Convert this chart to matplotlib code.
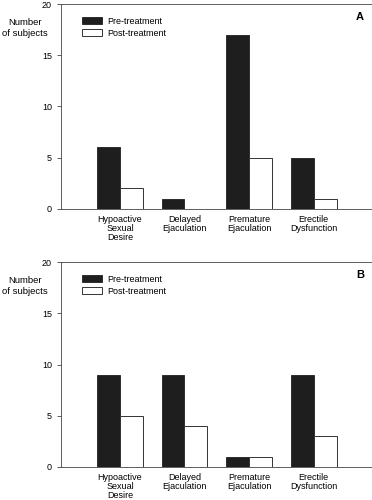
import matplotlib
matplotlib.use("Agg")
import matplotlib.pyplot as plt
import numpy as np

plt.rcParams['font.family'] = ['Liberation Sans', 'DejaVu Sans']

categories = ["Hypoactive\nSexual\nDesire", "Delayed\nEjaculation", "Premature\nEjaculation", "Erectile\nDysfunction"]
pre_A = [6, 1, 17, 5]
post_A = [2, 0, 5, 1]
pre_B = [9, 9, 1, 9]
post_B = [5, 4, 1, 3]
yticks = [0, 5, 10, 15, 20]

W, H = 372, 500
fig = plt.figure(figsize=(W/100, H/100), dpi=100)

def panel(top, bottom, pre, post, label):
    left = 61
    right = 386
    ax = fig.add_axes([left/W, 1 - bottom/H, (right-left)/W, (bottom-top)/H])
    x = np.arange(len(categories))
    w = 0.355
    ax.bar(x - w/2, pre, w, color='#1e1e1e', edgecolor='#1e1e1e', linewidth=0.6, label='Pre-treatment')
    ax.bar(x + w/2, post, w, color='white', edgecolor='#333333', linewidth=0.7, label='Post-treatment')
    ax.set_xlim(-0.912, 4.12)
    ax.set_ylim(0, 20)
    ax.set_yticks(yticks)
    ax.set_xticks(x)
    ax.set_xticklabels(categories, fontsize=6.5, linespacing=1.0)
    ax.tick_params(axis='x', length=0, pad=4.5)
    ax.tick_params(axis='y', length=3, width=0.6, labelsize=6.5, pad=3.5, color='#444444')
    for s in ax.spines.values():
        s.set_linewidth(0.6)
        s.set_color('#444444')
    ax.legend(loc='upper left', bbox_to_anchor=(0.055, 0.955), frameon=False, fontsize=6.5,
              handlelength=2.2, handleheight=0.75, borderaxespad=0, labelspacing=0.3, handletextpad=0.55)
    fig.text(360/W, 1 - (top+13)/H, label, fontsize=8, fontweight='bold', ha='center', va='center')
    fig.text(25/W, 1 - (top+24)/H, "Number\nof subjects", fontsize=6.8, ha='center', va='center', linespacing=1.25)
    return ax

panel(4, 209, pre_A, post_A, 'A')
panel(262, 467, pre_B, post_B, 'B')

fig.savefig('out.png', dpi=100)
